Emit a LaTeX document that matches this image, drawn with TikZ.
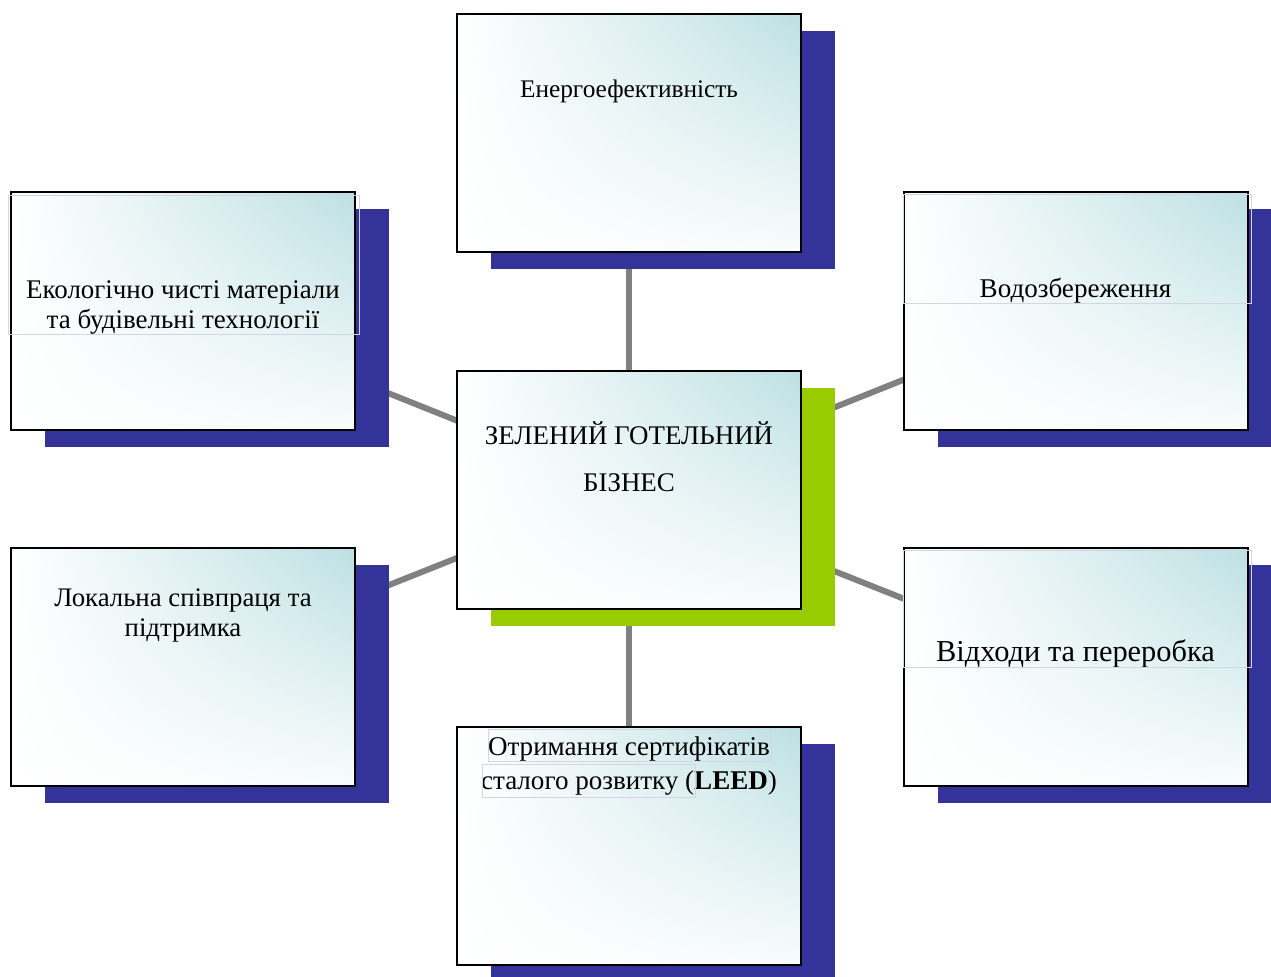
\documentclass[tikz,border=0pt]{standalone}
\usepackage{fontspec}
\setmainfont{Liberation Serif}
\usetikzlibrary{calc, positioning, shadows, shadings, backgrounds}

\definecolor{shadowblue}{RGB}{51,51,153}
\definecolor{shadowgreen}{RGB}{153,204,0}
\definecolor{cardteal}{RGB}{189,224,227}
\definecolor{linkgrey}{RGB}{128,128,128}
\definecolor{framegrey}{RGB}{212,212,226}

\tikzset{
  card/.style={draw=black, line width=1.5pt, minimum width=258pt, minimum height=178.5pt,
    inner sep=0pt, upper right=cardteal, upper left=white, lower left=white, lower right=white!90!cardteal},
  blueshadow/.style={general shadow={fill=shadowblue, shadow xshift=25.5pt, shadow yshift=-12.75pt}},
  greenshadow/.style={general shadow={fill=shadowgreen, shadow xshift=25.5pt, shadow yshift=-12.75pt}},
  cardtext/.style={align=center, inner sep=0pt},
  link/.style={draw=linkgrey, line width=4.5pt},
  textframe/.style={draw=framegrey, line width=0.5pt},
}

\begin{document}
\begin{tikzpicture}[x=0.75pt, y={(0pt,-0.75pt)}]
    \useasboundingbox (0,0) rectangle (1271,976);
    \clip (0,0) rectangle (1271,976);

    % cards
    \node[card, greenshadow] (hub) at (629,489.5) {};
    \node[card, blueshadow] (energy) at (629,133) {};
    \node[card, blueshadow] (eco) at (183,311) {};
    \node[card, blueshadow] (water) at (1075.5,311) {};
    \node[card, blueshadow] (local) at (183,667) {};
    \node[card, blueshadow] (waste) at (1075.5,667) {};
    \node[card, blueshadow] (leed) at (629,846) {};

    % links behind everything
    \begin{scope}[on background layer]
        \foreach \n in {energy, eco, water, local, waste, leed}
            \draw[link] (hub.center) -- (\n.center);
    \end{scope}

    % texts
    \node[cardtext, font=\fontsize{19}{23}\selectfont] (energy-txt) at ($(energy.north)+(0,78)$) {Енергоефективність};
    \node[cardtext, font=\fontsize{20.2}{22.5}\selectfont] (eco-txt) at ($(eco.north)+(0,116)$) {Екологічно чисті матеріали\\та будівельні технології};
    \node[cardtext, font=\fontsize{20.3}{25}\selectfont] (water-txt) at ($(water.north)+(0,100)$) {Водозбереження};
    \node[cardtext, font=\fontsize{20.2}{35}\selectfont] (hub-txt) at ($(hub.north)+(0,87)$) {ЗЕЛЕНИЙ ГОТЕЛЬНИЙ\\БІЗНЕС};
    \node[cardtext, font=\fontsize{20.1}{22.5}\selectfont] (local-txt) at ($(local.north)+(0,68)$) {Локальна співпраця та\\підтримка};
    \node[cardtext, font=\fontsize{22.8}{28}\selectfont] (waste-txt) at ($(waste.north)+(0,107)$) {Відходи та переробка};
    \node[cardtext, font=\fontsize{20.3}{26}\selectfont] (leed-txt) at ($(leed.north)+(0,40)$) {Отримання сертифікатів\\сталого розвитку (\textbf{LEED})};

    % faint text box frames
    \draw[textframe] (8,195) rectangle (359,334);
    \draw[textframe] (903,194) rectangle (1251,303);
    \draw[textframe] (903,550) rectangle (1251,667);
    \draw[textframe] (488,729) rectangle (771,761);
    \draw[textframe] (482,764) rectangle (695,797);
\end{tikzpicture}
\end{document}
